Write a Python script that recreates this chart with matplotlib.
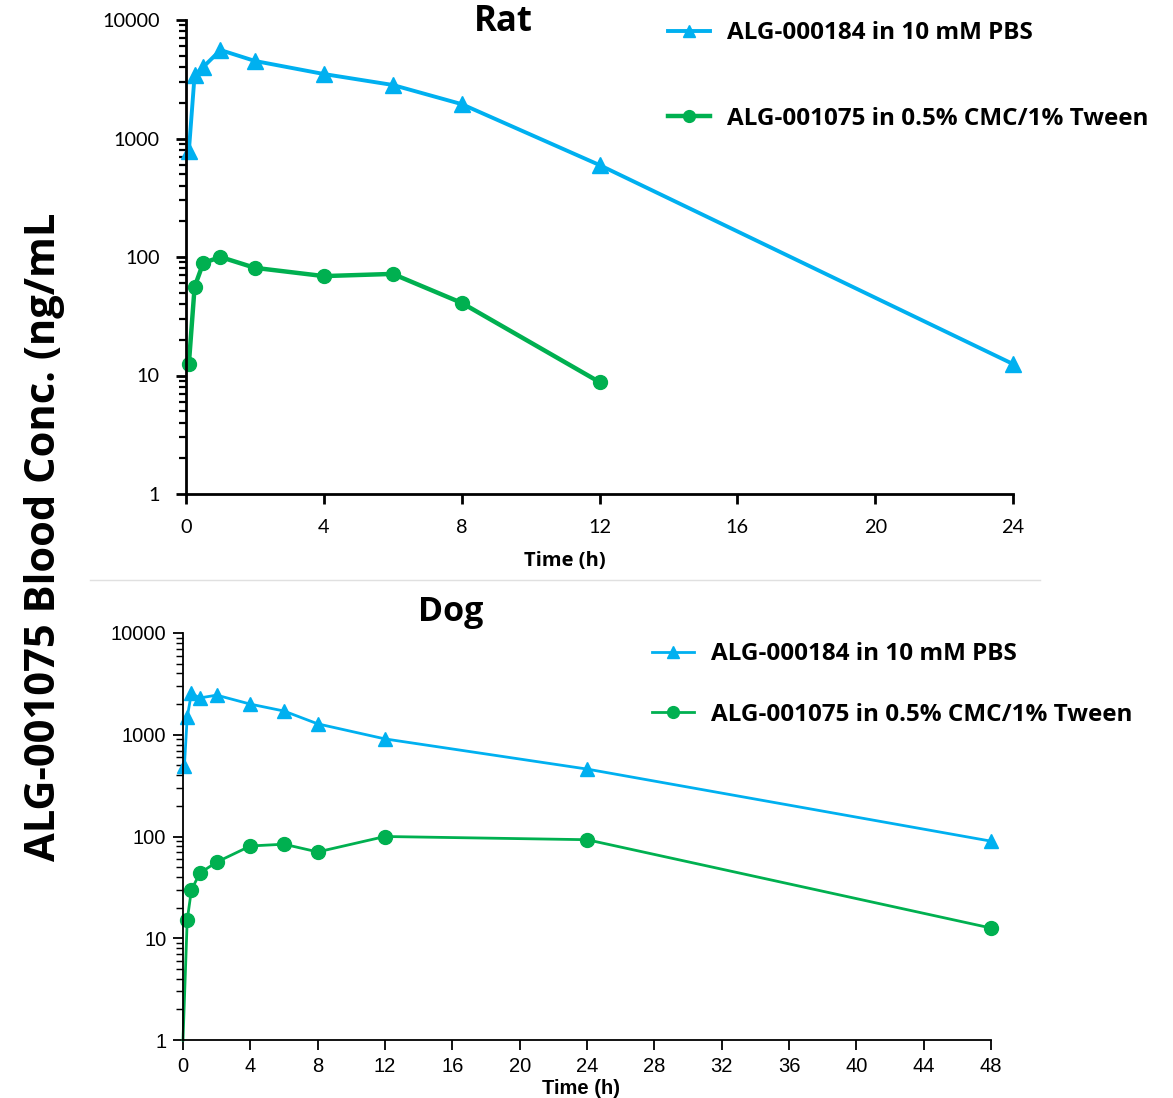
import matplotlib
matplotlib.use("Agg")
import matplotlib.pyplot as plt
from matplotlib.ticker import LogLocator, NullFormatter, FixedLocator

# Rat data
rat_t_pbs = [0.083, 0.25, 0.5, 1, 2, 4, 6, 8, 12, 24]
rat_c_pbs = [780, 3440, 4010, 5580, 4510, 3500, 2830, 1950, 597, 12.5]
rat_t_cmc = [0.083, 0.25, 0.5, 1, 2, 4, 6, 8, 12]
rat_c_cmc = [12.5, 56, 89, 100, 81, 69, 72, 41, 8.8]

# Dog data
dog_t_pbs = [0.083, 0.25, 0.5, 1, 2, 4, 6, 8, 12, 24, 48]
dog_c_pbs = [493, 1490, 2550, 2300, 2450, 2000, 1710, 1280, 910, 460, 90]
dog_t_cmc = [0, 0.25, 0.5, 1, 2, 4, 6, 8, 12, 24, 48]
dog_c_cmc = [1, 15.1, 29.8, 43.7, 56, 80.7, 84, 70.5, 100, 93, 12.6]

label_pbs = "ALG-000184 in 10 mM PBS"
label_cmc = "ALG-001075 in 0.5% CMC/1% Tween"
ylabel = "ALG-001075 Blood Conc. (ng/mL"

blue = "#00B0F0"
green = "#00B050"
bold_font = "Open Sans"
W, H = 1173, 1098

fig = plt.figure(figsize=(W / 100, H / 100), dpi=100)


def box(l, t, r, b):
    return [l / W, 1 - b / H, (r - l) / W, (b - t) / H]


def style_axes(ax, xmax, xstep, lw, font, fs, xpad, ypad):
    ax.set_yscale("log")
    ax.set_ylim(1, 10000)
    ax.set_xlim(0, xmax)
    ax.xaxis.set_major_locator(FixedLocator(list(range(0, xmax + 1, xstep))))
    ax.yaxis.set_minor_locator(LogLocator(base=10, subs=range(2, 10), numticks=10))
    ax.yaxis.set_minor_formatter(NullFormatter())
    ax.set_yticks([1, 10, 100, 1000, 10000])
    ax.set_yticklabels(["1", "10", "100", "1000", "10000"])
    for s in ["top", "right"]:
        ax.spines[s].set_visible(False)
    for s in ["left", "bottom"]:
        ax.spines[s].set_linewidth(lw)
    ax.tick_params(axis="both", which="major", length=7, width=lw,
                   labelsize=fs, direction="out")
    ax.tick_params(axis="x", pad=xpad)
    ax.tick_params(axis="y", pad=ypad)
    ax.tick_params(axis="y", which="minor", length=5, width=lw * 0.8)
    for lab in ax.get_xticklabels() + ax.get_yticklabels():
        lab.set_family(font)


# Rat panel
ax1 = fig.add_axes(box(186, 20, 1013, 494))
ax1.plot(rat_t_pbs, rat_c_pbs, color=blue, lw=2.8, marker="^", ms=11,
         label=label_pbs, clip_on=False)
ax1.plot(rat_t_cmc, rat_c_cmc, color=green, lw=3.2, marker="o", ms=10,
         label=label_cmc, clip_on=False)
style_axes(ax1, 24, 4, 2.0, "Lato", 14.3, 11, 12)
ax1.set_xlabel("Time (h)", fontsize=14.5, fontweight="bold", family=bold_font)
ax1.xaxis.set_label_coords((565 - 186) / (1013 - 186), -(561 - 494) / (494 - 20),
                           transform=ax1.transAxes)
ax1.xaxis.label.set_va("center")
fig.text(503 / W, 1 - 22 / H, "Rat", fontsize=25, fontweight="bold",
         family=bold_font, ha="center", va="center")
fig.legend(handles=ax1.get_lines(), loc="center left",
           bbox_to_anchor=(646 / W, 1 - 76 / H), frameon=False,
           prop={"family": bold_font, "weight": "bold", "size": 17.5},
           handlelength=1.75, handletextpad=0.7, labelspacing=2.54,
           markerscale=0.85)

# separator
fig.add_artist(plt.Line2D([90 / W, 1040 / W], [1 - 580 / H, 1 - 580 / H],
                          color="#e0e0e0", lw=1))

# Dog panel
ax2 = fig.add_axes(box(183, 633, 991, 1040))
ax2.plot(dog_t_pbs, dog_c_pbs, color=blue, lw=2.0, marker="^", ms=10,
         label=label_pbs, clip_on=False)
ax2.plot(dog_t_cmc, dog_c_cmc, color=green, lw=2.0, marker="o", ms=10,
         markevery=list(range(1, len(dog_t_cmc))), label=label_cmc,
         clip_on=False)
style_axes(ax2, 48, 4, 1.3, "Liberation Sans", 14.5, 5, 5)
ax2.set_xlabel("Time (h)", fontsize=14.5, fontweight="bold",
               family="Liberation Sans")
ax2.xaxis.set_label_coords((581 - 183) / (991 - 183), -(1088 - 1040) / (1040 - 633),
                           transform=ax2.transAxes)
ax2.xaxis.label.set_va("center")
fig.text(451 / W, 1 - 612 / H, "Dog", fontsize=24.5, fontweight="bold",
         family=bold_font, ha="center", va="center")
fig.legend(handles=ax2.get_lines(), loc="center left",
           bbox_to_anchor=(630 / W, 1 - 684.5 / H), frameon=False,
           prop={"family": bold_font, "weight": "bold", "size": 17.5},
           handlelength=1.75, handletextpad=0.7, labelspacing=1.51,
           markerscale=0.85)

fig.text(45 / W, 1 - 537 / H, ylabel, rotation=90, fontsize=30,
         fontweight="bold", family=bold_font, ha="center", va="center")

fig.savefig("out.png", dpi=100)
